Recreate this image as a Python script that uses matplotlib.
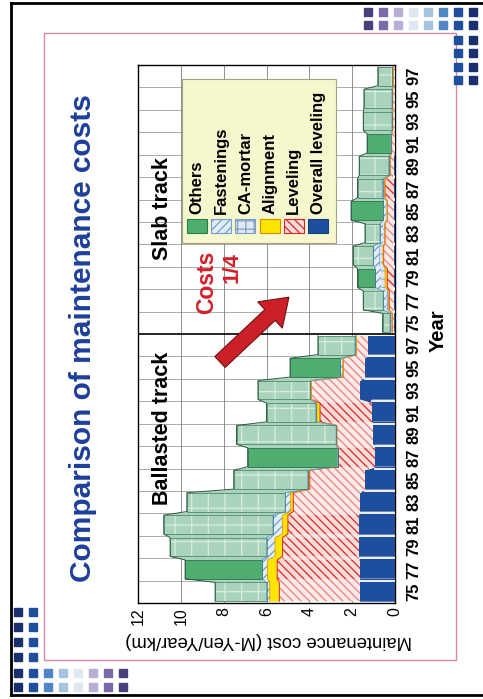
import matplotlib.pyplot as plt
import numpy as np
from matplotlib.patches import Rectangle, FancyArrow

plt.rcParams["font.family"] = ["Liberation Sans", "DejaVu Sans"]
plt.rcParams["hatch.linewidth"] = 0.9

# maintenance cost per year (M-Yen/Year/km), stacked from the bottom layer up
years = ["75", "77", "79", "81", "83", "85", "87", "89", "91", "93", "95", "97"]

ballast_overall = [1.65, 1.65, 1.70, 1.70, 1.65, 1.38, 0.94, 1.02, 1.07, 1.65, 1.40, 1.25]
ballast_leveling = [3.75, 3.85, 3.55, 3.30, 3.10, 2.60, 1.74, 1.70, 2.43, 2.25, 1.02, 0.55]
ballast_alignment = [0.45, 0.45, 0.35, 0.25, 0.12, 0.05, 0.00, 0.00, 0.15, 0.00, 0.00, 0.00]
ballast_ca_mortar = [0.0] * 12
ballast_fastenings = [0.15, 0.25, 0.40, 0.45, 0.25, 0.05, 0.00, 0.03, 0.05, 0.05, 0.13, 0.07]
ballast_others = [2.40, 3.60, 4.50, 5.10, 4.60, 3.45, 4.20, 4.65, 2.30, 2.45, 2.35, 1.73]

slab_overall = [0.03, 0.03, 0.03, 0.03, 0.03, 0.03, 0.03, 0.03, 0.02, 0.02, 0.02, 0.02]
slab_leveling = [0.10, 0.24, 0.33, 0.50, 0.44, 0.33, 0.44, 0.20, 0.14, 0.09, 0.09, 0.06]
slab_alignment = [0.00, 0.03, 0.10, 0.03, 0.00, 0.00, 0.00, 0.00, 0.00, 0.00, 0.00, 0.00]
slab_ca_mortar = [0.05, 0.10, 0.20, 0.20, 0.10, 0.07, 0.05, 0.03, 0.02, 0.02, 0.02, 0.02]
slab_fastenings = [0.05, 0.15, 0.27, 0.25, 0.13, 0.12, 0.06, 0.03, 0.02, 0.02, 0.02, 0.02]
slab_others = [0.35, 0.93, 0.82, 0.94, 0.70, 1.50, 1.17, 1.38, 1.10, 1.33, 1.30, 0.68]

value_ticks = [0, 2, 4, 6, 8, 10, 12]

# shading variants of the printed bars (1 = darker print)
ballast_others_dark = [0, 1, 0, 0, 0, 0, 1, 0, 0, 0, 1, 0]
ballast_level_dark = [0, 1, 1, 1, 0, 0, 1, 0, 1, 0, 0, 0]
slab_others_dark = [0, 0, 1, 0, 0, 1, 0, 0, 1, 0, 0, 0]
slab_level_dark = [0, 0, 1, 0, 0, 0, 1, 0, 0, 0, 0, 0]

STYLES = {
    "overall": dict(face="#1d4f9e", hatch=None, hcolor="#1d4f9e", line=None),
    "leveling": dict(face="#fdeae6", hatch="\\\\\\\\", hcolor="#e57f82", line="#d9262c"),
    "alignment": dict(face="#ffe400", hatch=None, hcolor="#e0a400", line="#e0a400"),
    "ca_mortar": dict(face="#dfe8f2", hatch="++", hcolor="#8fb0d4", line=None),
    "fastenings": dict(face="#e4eef8", hatch="////", hcolor="#6f9fd2", line="#6f9fd2"),
    "others": dict(face="#a9d4bb", hatch=None, hcolor="#a9d4bb", line="#2f5a44"),
}

W, H = 483, 699


def draw_track(ax, base, layers, others_dark, level_dark):

    n = len(years)
    centers = base + 0.5 + np.arange(n)
    half = 0.42
    y_steps = np.column_stack([centers - half, centers + half]).ravel()
    bottom = np.zeros(n)

    for key, values in layers:

        values = np.asarray(values, dtype=float)
        top = bottom + values
        st = STYLES[key]

        # sloped connections between neighbouring bars
        ax.fill_betweenx(
            y_steps,
            np.repeat(bottom, 2),
            np.repeat(top, 2),
            facecolor=st["face"],
            edgecolor=st["hcolor"],
            hatch=st["hatch"],
            linewidth=0,
            zorder=2
        )

        bars = ax.barh(
            centers,
            values,
            left=bottom,
            height=2 * half,
            color=st["face"],
            edgecolor=st["hcolor"],
            hatch=st["hatch"],
            linewidth=0,
            zorder=3
        )

        for i, bar in enumerate(bars):
            if values[i] <= 0:
                bar.set_visible(False)
                continue
            if key == "others":
                if others_dark[i]:
                    bar.set_facecolor("#4dae6f")
                    bar.set_edgecolor("#2f7a4c")
                    bar.set_linewidth(0.6)
                else:
                    bar.set_edgecolor((1, 1, 1, 0.55))
                    bar.set_hatch("+")
            if key == "leveling" and level_dark[i]:
                bar.set_facecolor("#fbdcd6")
                bar.set_edgecolor("#d9262c")

        if key == "others":
            # outline around the light bars
            ax.barh(
                centers[values > 0],
                values[values > 0],
                left=bottom[values > 0],
                height=2 * half,
                fill=False,
                edgecolor="#3d7a5a",
                linewidth=0.5,
                zorder=4
            )

        if st["line"] is not None and values.max() > 0:
            ax.plot(
                np.repeat(top, 2),
                y_steps,
                color=st["line"],
                linewidth=0.7,
                zorder=4
            )

        if key == "overall":
            # white gaps between the blue blocks
            for i in range(n - 1):
                yb = centers[i] + 0.5
                ax.plot(
                    [0, min(top[i], top[i + 1])],
                    [yb, yb],
                    color="white",
                    linewidth=1.3,
                    zorder=4
                )
                ax.plot(
                    [0, min(top[i], top[i + 1])],
                    [yb + 0.1, yb + 0.1],
                    color="#9aa6b8",
                    linewidth=0.5,
                    zorder=4
                )

        bottom = top

    return centers


fig = plt.figure(figsize=(W / 100, H / 100), dpi=100)

# ----------------------------------------
# Slide background and frames
# ----------------------------------------

bg = fig.add_axes([0, 0, 1, 1], zorder=0)
bg.set_xlim(0, W)
bg.set_ylim(H, 0)
bg.axis("off")

bg.plot([11, W], [3, 3], color="black", linewidth=2)
bg.plot([11, 11], [3, 695], color="black", linewidth=2)
bg.plot([11, W], [695, 695], color="black", linewidth=2)

bg.add_patch(Rectangle((44, 33), 412, 627, fill=False, edgecolor="#d68a9b", linewidth=1))

square_colors = ["#4a3f7a", "#7b6aa8", "#b9aed6", "#dfe7f0", "#a6c3e0", "#4f86c6", "#1f4f9c", "#1a2f6e"]

for row_y in [12, 25]:
    for j, c in enumerate(square_colors):
        bg.add_patch(Rectangle((364 + 15 * j, row_y - 4), 8, 8, color=c))
for row_y in [40, 53, 67, 80]:
    bg.add_patch(Rectangle((454, row_y - 4), 8, 8, color="#1f4f9c"))
    bg.add_patch(Rectangle((469, row_y - 4), 8, 8, color="#1a2f6e"))

for row_y in [673, 687]:
    for j, c in enumerate(square_colors[::-1]):
        bg.add_patch(Rectangle((14 + 15 * j, row_y - 4), 8, 8, color=c))
for row_y in [612, 627, 642, 657]:
    bg.add_patch(Rectangle((14, row_y - 4), 8, 8, color="#1a2f6e"))
    bg.add_patch(Rectangle((29, row_y - 4), 8, 8, color="#1f4f9c"))

# ----------------------------------------
# Chart
# ----------------------------------------

ax = fig.add_axes([138 / W, 1 - 603 / H, 257 / W, 538 / H], zorder=1)
ax.set_facecolor("white")

ballast_layers = [
    ("overall", ballast_overall),
    ("leveling", ballast_leveling),
    ("alignment", ballast_alignment),
    ("ca_mortar", ballast_ca_mortar),
    ("fastenings", ballast_fastenings),
    ("others", ballast_others),
]

slab_layers = [
    ("overall", slab_overall),
    ("leveling", slab_leveling),
    ("alignment", slab_alignment),
    ("ca_mortar", slab_ca_mortar),
    ("fastenings", slab_fastenings),
    ("others", slab_others),
]

c_ballast = draw_track(ax, 0, ballast_layers, ballast_others_dark, ballast_level_dark)
c_slab = draw_track(ax, len(years), slab_layers, slab_others_dark, slab_level_dark)

ax.set_xlim(12, 0)
ax.set_ylim(0, 2 * len(years))

ax.set_xticks(value_ticks)
ax.set_xticklabels([str(v) for v in value_ticks])
ax.grid(axis="x", color="#7d7d7d", linewidth=0.6, zorder=0)
ax.set_axisbelow(True)

for k in range(1, 2 * len(years)):
    if k != len(years):
        ax.axhline(k, color="#8c8c8c", linewidth=0.5, zorder=0)

ax.axhline(len(years), color="black", linewidth=1.2, zorder=5)

ax.set_yticks(np.concatenate([c_ballast, c_slab]))
ax.set_yticklabels(years + years)
ax.yaxis.tick_right()

ax.tick_params(axis="x", length=0, pad=3, labelrotation=90, labelsize=11.5)
ax.tick_params(axis="y", length=0, pad=8, labelrotation=90, labelsize=12)

for label in ax.get_yticklabels():
    label.set_va("center")
    label.set_fontweight("bold")
    label.set_family(["Liberation Sans Narrow", "Liberation Sans"])

for spine in ax.spines.values():
    spine.set_color("black")
    spine.set_linewidth(1)

# ----------------------------------------
# Texts, arrow and legend
# ----------------------------------------

fg = fig.add_axes([0, 0, 1, 1], zorder=2)
fg.set_xlim(0, W)
fg.set_ylim(H, 0)
fg.axis("off")
fg.patch.set_alpha(0)

fg.text(83, 338, "Comparison of maintenance costs", rotation=90,
        ha="center", va="center", fontsize=21.5, fontweight="bold", color="#1d3f9a")

fg.text(163, 428, "Ballasted track", rotation=90,
        ha="center", va="center", fontsize=15.5, fontweight="bold")

fg.text(163, 209, "Slab track", rotation=90,
        ha="center", va="center", fontsize=15.5, fontweight="bold")

fg.text(207, 282, "Costs", rotation=90,
        ha="center", va="center", fontsize=16.5, fontweight="bold", color="#d3202a")

fg.text(232, 268, "1/4", rotation=90,
        ha="center", va="center", fontsize=16, fontweight="bold", color="#d3202a")

fg.text(438, 331, "Year", rotation=90,
        ha="center", va="center", fontsize=14.5, fontweight="bold")

fg.text(269, 641, "Maintenance cost (M-Yen/Year/km)", rotation=180,
        ha="center", va="center", fontsize=13.3)

fg.add_patch(FancyArrow(220, 362, 50, -47, width=15, head_width=36, head_length=26,
                        length_includes_head=False, facecolor="#cc1f27",
                        edgecolor="#6b1515", linewidth=0.8))

fg.add_patch(Rectangle((182, 79), 154, 164, facecolor="#f6f7cd",
                       edgecolor="#a3a385", linewidth=0.8))

legend_items = [
    ("Others", dict(facecolor="#4dae6f", edgecolor="#2f7a4c", hatch=None)),
    ("Fastenings", dict(facecolor="#e4eef8", edgecolor="#6f9fd2", hatch="////")),
    ("CA-mortar", dict(facecolor="#dfe8f2", edgecolor="#7f9fc4", hatch="++")),
    ("Alignment", dict(facecolor="#ffe400", edgecolor="#e08a00", hatch=None)),
    ("Leveling", dict(facecolor="#fbdcd6", edgecolor="#d9262c", hatch="\\\\\\\\")),
    ("Overall leveling", dict(facecolor="#1d4f9e", edgecolor="#173f80", hatch=None)),
]

for j, (name, kw) in enumerate(legend_items):
    xc = 197 + 24.2 * j
    fg.add_patch(Rectangle((xc - 10, 219), 20, 14, linewidth=0.8, **kw))
    fg.text(xc, 214, name, rotation=90, ha="center", va="bottom",
            fontsize=12, fontweight="bold")

fig.savefig("out.png", dpi=100)
